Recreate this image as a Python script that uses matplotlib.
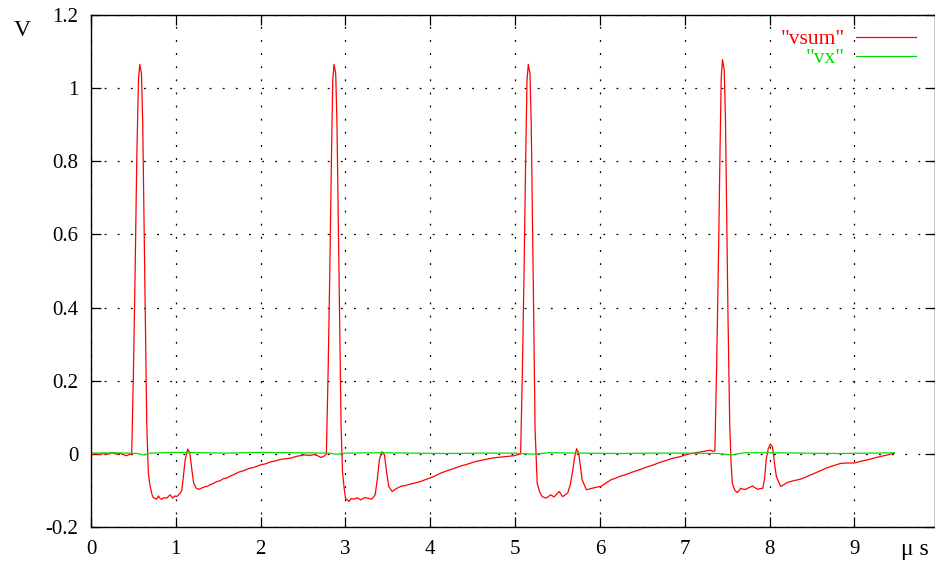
import matplotlib
matplotlib.use('Agg')
import matplotlib.pyplot as plt

# vsum trace (time in us, volts)
t_sum = [0.00, 0.05, 0.10, 0.15, 0.20, 0.25, 0.30, 0.35, 0.38, 0.42, 0.45, 0.48,
         0.50, 0.52, 0.54, 0.56, 0.575, 0.595, 0.61, 0.625, 0.64, 0.657, 0.676, 0.697,
         0.72, 0.736, 0.775, 0.795, 0.815, 0.834, 0.86, 0.893, 0.933, 0.964, 0.99, 1.01,
         1.05, 1.07, 1.09, 1.11, 1.14, 1.165, 1.19, 1.21, 1.24, 1.27, 1.30, 1.34,
         1.37, 1.40, 1.44, 1.48, 1.52, 1.56, 1.60, 1.65, 1.70, 1.74, 1.80, 1.86,
         1.92, 2.00, 2.06, 2.12, 2.18, 2.24, 2.30, 2.35, 2.42, 2.51, 2.58, 2.64,
         2.68, 2.71, 2.75, 2.775,
         2.795, 2.815, 2.835, 2.85, 2.865, 2.885, 2.90, 2.915, 2.93, 2.948, 2.965, 2.985,
         3.00, 3.04, 3.07, 3.10, 3.14, 3.18, 3.22, 3.26, 3.31, 3.35, 3.375, 3.40,
         3.43, 3.46, 3.485, 3.51, 3.55, 3.60, 3.65, 3.70, 3.76, 3.81, 3.88, 3.96,
         4.04, 4.12, 4.20, 4.28, 4.36, 4.44, 4.52, 4.59, 4.66, 4.74, 4.83, 4.91,
         4.99, 5.05, 5.065,
         5.085, 5.105, 5.125, 5.14, 5.155, 5.175, 5.19, 5.205, 5.22, 5.235, 5.26, 5.29,
         5.32, 5.36, 5.39, 5.42, 5.46, 5.49, 5.52, 5.56, 5.59, 5.62, 5.65, 5.68,
         5.705, 5.725, 5.75, 5.77, 5.79, 5.84, 5.88, 5.91, 5.96, 6.01, 6.07, 6.13,
         6.18, 6.23, 6.30, 6.38, 6.46, 6.54, 6.62, 6.70, 6.78, 6.86, 6.94, 7.02,
         7.10, 7.18, 7.25, 7.30, 7.33, 7.355,
         7.375, 7.395, 7.415, 7.43, 7.445, 7.465, 7.48, 7.495, 7.51, 7.53, 7.545, 7.56,
         7.59, 7.62, 7.66, 7.69, 7.72, 7.76, 7.80, 7.83, 7.86, 7.89, 7.92, 7.94,
         7.96, 7.985, 8.01, 8.035, 8.06, 8.08, 8.13, 8.17, 8.21, 8.29, 8.37, 8.45,
         8.53, 8.61, 8.69, 8.77, 8.84, 8.92, 9.00, 9.08, 9.16, 9.24, 9.31, 9.39, 9.47]
v_sum = [-0.003, 0.000, -0.002, 0.001, -0.001, 0.003, -0.001, 0.001, -0.002, -0.005, -0.002, 0.000,
         0.22, 0.495, 0.813, 1.023, 1.065, 1.04, 0.90, 0.64, 0.36, 0.085, -0.052, -0.089,
         -0.112, -0.120, -0.124, -0.115, -0.122, -0.124, -0.120, -0.121, -0.112, -0.121, -0.115, -0.117,
         -0.108, -0.100, -0.060, -0.016, 0.013, 0.002, -0.045, -0.080, -0.094, -0.097, -0.094, -0.090,
         -0.089, -0.085, -0.081, -0.076, -0.074, -0.068, -0.066, -0.060, -0.055, -0.050, -0.046, -0.040,
         -0.037, -0.030, -0.027, -0.022, -0.019, -0.015, -0.013, -0.012, -0.007, -0.003, -0.004, -0.002,
         -0.006, -0.010, -0.006, 0.000,
         0.22, 0.495, 0.813, 1.02, 1.065, 1.04, 0.90, 0.64, 0.36, 0.08, -0.05, -0.095,
         -0.121, -0.130, -0.122, -0.124, -0.120, -0.126, -0.120, -0.121, -0.124, -0.112, -0.070, -0.016,
         0.006, -0.003, -0.050, -0.089, -0.103, -0.095, -0.089, -0.087, -0.083, -0.080, -0.076, -0.069,
         -0.062, -0.053, -0.046, -0.040, -0.033, -0.028, -0.022, -0.018, -0.015, -0.011, -0.009, -0.007,
         -0.005, -0.001, 0.000,
         0.22, 0.495, 0.813, 1.02, 1.065, 1.04, 0.90, 0.64, 0.36, 0.07, -0.08, -0.105,
         -0.117, -0.121, -0.117, -0.112, -0.118, -0.110, -0.103, -0.117, -0.112, -0.107, -0.085, -0.044,
         -0.005, 0.014, 0.002, -0.035, -0.071, -0.098, -0.096, -0.094, -0.091, -0.089, -0.080, -0.071,
         -0.067, -0.062, -0.057, -0.050, -0.044, -0.037, -0.031, -0.024, -0.018, -0.012, -0.008, -0.002,
         0.002, 0.005, 0.008, 0.010, 0.007, 0.008,
         0.23, 0.50, 0.82, 1.03, 1.078, 1.05, 0.91, 0.65, 0.37, 0.08, -0.02, -0.08,
         -0.100, -0.106, -0.094, -0.097, -0.097, -0.092, -0.088, -0.093, -0.097, -0.095, -0.094, -0.070,
         -0.016, 0.015, 0.027, 0.018, -0.030, -0.062, -0.089, -0.084, -0.078, -0.073, -0.069, -0.061,
         -0.053, -0.045, -0.037, -0.031, -0.026, -0.025, -0.025, -0.020, -0.016, -0.011, -0.007, -0.003, 0.002]

# vx trace, sits on zero
t_vx = [0.00, 0.30, 0.55, 0.62, 0.70, 1.00, 1.30, 1.60, 2.00, 2.40, 2.80, 2.90,
        3.00, 3.40, 3.80, 4.20, 4.60, 5.00, 5.20, 5.40, 5.80, 6.20, 6.60, 7.00,
        7.40, 7.55, 7.70, 8.00, 8.40, 8.80, 9.20, 9.47]
v_vx = [0.002, 0.003, 0.001, -0.003, 0.002, 0.004, 0.003, 0.002, 0.004, 0.003, 0.002, -0.001,
        0.002, 0.003, 0.002, 0.001, 0.002, 0.002, -0.001, 0.003, 0.002, 0.001, 0.002, 0.002,
        0.001, -0.003, 0.003, 0.003, 0.002, 0.001, 0.002, 0.003]

x_ticks = [0, 1, 2, 3, 4, 5, 6, 7, 8, 9]
y_ticks = [-0.2, 0, 0.2, 0.4, 0.6, 0.8, 1.0, 1.2]
y_labels = ['-0.2', '0', '0.2', '0.4', '0.6', '0.8', '1', '1.2']

plt.rcParams['font.family'] = ['Liberation Serif', 'DejaVu Serif']

fig = plt.figure(figsize=(9.35, 5.63), dpi=100)
ax = fig.add_axes([91 / 935, 1 - 527 / 563, 1 - 91 / 935, (527 - 15) / 563])

ax.plot(t_sum, v_sum, color='#ff0000', lw=0.9, label='"vsum"')
ax.plot(t_vx, v_vx, color='#00e000', lw=0.9, label='"vx"')

ax.set_xlim(0, 9.95)
ax.set_ylim(-0.2, 1.2)
ax.set_xticks(x_ticks)
ax.set_yticks(y_ticks)
ax.set_yticklabels(y_labels)
ax.tick_params(direction='in', length=7, width=0.9, top=True, right=True,
               labelsize=15, pad=9, colors='black')
ax.grid(True, color='black', lw=0.9, linestyle=(0, (1.5, 9)))
for s in ax.spines.values():
    s.set_linewidth(1.0)

fig.text(22 / 935, 1 - 30 / 563, 'V', fontsize=17, ha='center', va='center')
fig.text(915 / 935, 1 - 550 / 563, 'μ s', fontsize=17, ha='center', va='center')

leg = ax.legend(loc='upper right', bbox_to_anchor=(0.985, 0.985), frameon=False,
                markerfirst=False, fontsize=15.5, handlelength=2.8, labelspacing=-0.05,
                borderaxespad=0.0, borderpad=0.3, handletextpad=0.5)
for txt, c in zip(leg.get_texts(), ['#ff0000', '#00e000']):
    txt.set_color(c)
for col in leg._legend_handle_box.get_children():
    col.align = 'right'

fig.savefig('out.png', dpi=100)
